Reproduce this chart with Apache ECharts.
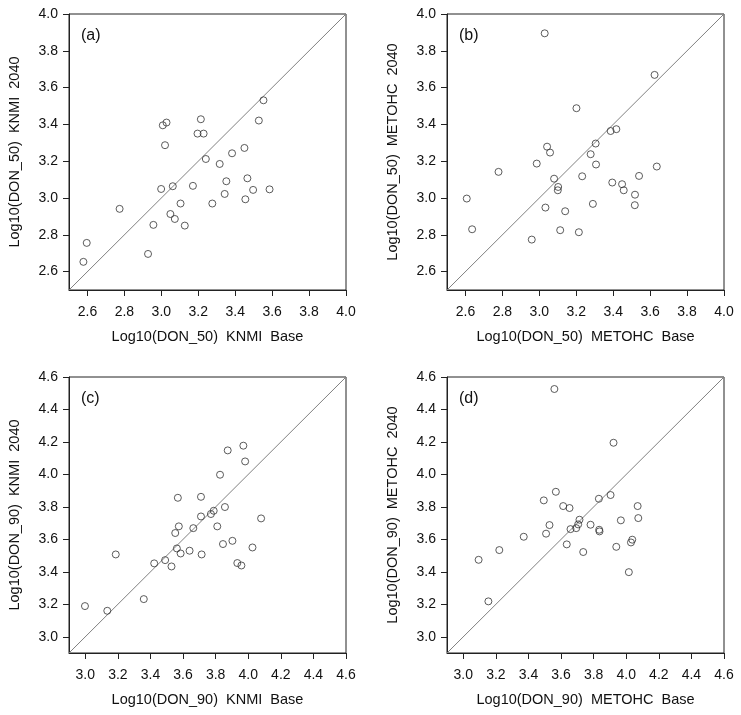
<!DOCTYPE html>
<html>
<head>
<meta charset="utf-8">
<script src="https://cdn.jsdelivr.net/npm/echarts@6/dist/echarts.min.js"></script>
<style>
html,body{margin:0;padding:0;background:#fff;}
#chart{width:741px;height:715px;}
</style>
</head>
<body>
<div id="chart"></div>
<script>
// Panel (a): Log10(DON_50) KNMI
var a_base = [2.578,2.596,2.774,2.928,2.957,2.999,3.008,3.028,3.020,3.062,3.049,3.073,3.104,3.127,3.171,3.196,3.214,3.229,3.241,3.276,3.316,3.343,3.352,3.383,3.450,3.455,3.466,3.497,3.528,3.553,3.586];
var a_2040 = [2.653,2.756,2.941,2.696,2.854,3.049,3.395,3.410,3.287,3.064,2.913,2.886,2.970,2.850,3.066,3.350,3.428,3.350,3.212,2.970,3.185,3.022,3.091,3.243,3.272,2.993,3.107,3.044,3.421,3.531,3.047];
// Panel (b): Log10(DON_50) METOHC
var b_base = [2.607,2.636,2.779,2.959,2.986,3.029,3.033,3.042,3.058,3.080,3.102,3.100,3.113,3.140,3.201,3.214,3.232,3.278,3.290,3.305,3.307,3.386,3.395,3.417,3.448,3.457,3.518,3.517,3.540,3.624,3.636];
var b_2040 = [2.997,2.830,3.142,2.774,3.187,3.895,2.948,3.279,3.247,3.105,3.060,3.042,2.825,2.928,3.488,2.814,3.118,3.238,2.968,3.296,3.182,3.364,3.084,3.374,3.075,3.042,3.018,2.961,3.120,3.669,3.171];
// Panel (c): Log10(DON_90) KNMI
var c_base = [2.998,3.135,3.187,3.359,3.423,3.490,3.529,3.552,3.562,3.568,3.574,3.585,3.640,3.663,3.710,3.710,3.714,3.771,3.788,3.810,3.827,3.845,3.857,3.874,3.903,3.933,3.958,3.970,3.981,4.026,4.079];
var c_2040 = [3.189,3.160,3.507,3.232,3.452,3.472,3.433,3.639,3.544,3.856,3.680,3.513,3.530,3.669,3.862,3.741,3.507,3.756,3.776,3.680,3.998,3.571,3.799,4.148,3.591,3.454,3.439,4.177,4.080,3.550,3.729];
// Panel (d): Log10(DON_90) METOHC
var d_base = [3.094,3.154,3.221,3.371,3.494,3.508,3.529,3.559,3.568,3.613,3.635,3.652,3.658,3.693,3.705,3.713,3.736,3.781,3.832,3.834,3.836,3.904,3.922,3.939,3.967,4.016,4.029,4.037,4.070,4.074];
var d_2040 = [3.474,3.218,3.534,3.616,3.840,3.635,3.688,4.526,3.893,3.805,3.569,3.793,3.663,3.669,3.692,3.721,3.522,3.690,3.850,3.659,3.649,3.873,4.195,3.554,3.717,3.398,3.581,3.598,3.805,3.731];

var ticks50 = [2.6,2.8,3.0,3.2,3.4,3.6,3.8,4.0];
var ticks90 = [3.0,3.2,3.4,3.6,3.8,4.0,4.2,4.4,4.6];
var range50 = [2.5,4.0];
var range90 = [2.9,4.6];

var panelLabels = ['(a)','(b)','(c)','(d)'];
var xNames = ['Log10(DON_50)  KNMI  Base','Log10(DON_50)  METOHC  Base','Log10(DON_90)  KNMI  Base','Log10(DON_90)  METOHC  Base'];
var yNames = ['Log10(DON_50)  KNMI  2040','Log10(DON_50)  METOHC  2040','Log10(DON_90)  KNMI  2040','Log10(DON_90)  METOHC  2040'];

var panels = [
  {x:a_base, y:a_2040, r:range50, t:ticks50},
  {x:b_base, y:b_2040, r:range50, t:ticks50},
  {x:c_base, y:c_2040, r:range90, t:ticks90},
  {x:d_base, y:d_2040, r:range90, t:ticks90}
];
var pos = [[69,14],[447,14],[69,377],[447,377]];
var FONT = 'Liberation Sans';
var grids=[], xAxes=[], yAxes=[], series=[], titles=[];
panels.forEach(function(p,i){
  grids.push({left:pos[i][0], top:pos[i][1], width:277, height:276, show:true, borderColor:'#222', borderWidth:1, containLabel:false});
  var common = function(name, isX){
    return {
      type:'value', gridIndex:i, min:p.r[0], max:p.r[1],
      name:name, nameLocation:'middle', nameGap: isX ? 39 : 47,
      nameTextStyle:{fontFamily:FONT, fontSize:14.5, color:'#111'},
      axisLine:{show:true, onZero:false, lineStyle:{color:'#222', width:1}},
      axisTick:{show:true, inside:false, length:6, lineStyle:{color:'#222'}, customValues:p.t},
      axisLabel:{show:true, margin: isX ? 15 : 11, fontFamily:FONT, fontSize:14, color:'#111', customValues:p.t,
        formatter:function(v){return Number(v).toFixed(1);}},
      splitLine:{show:false}
    };
  };
  xAxes.push(common(xNames[i], true));
  yAxes.push(common(yNames[i], false));
  series.push({
    type:'line', xAxisIndex:i, yAxisIndex:i, silent:true, symbol:'none',
    data:[[p.r[0],p.r[0]],[p.r[1],p.r[1]]],
    lineStyle:{color:'#808080', width:1}, z:1
  });
  series.push({
    type:'scatter', xAxisIndex:i, yAxisIndex:i, symbol:'circle', symbolSize:7,
    data:p.x.map(function(v,k){return [v,p.y[k]];}),
    itemStyle:{color:'rgba(0,0,0,0)', borderColor:'#333', borderWidth:1}, z:2
  });
  titles.push({text:panelLabels[i], left:pos[i][0]+7, top:pos[i][1]+9,
    textStyle:{fontFamily:FONT, fontSize:16, fontWeight:'normal', color:'#111'}});
});

var chart = echarts.init(document.getElementById('chart'), null, {renderer:'canvas'});
chart.setOption({
  animation:false,
  backgroundColor:'#fff',
  title:titles,
  grid:grids, xAxis:xAxes, yAxis:yAxes, series:series
});
</script>
</body>
</html>
